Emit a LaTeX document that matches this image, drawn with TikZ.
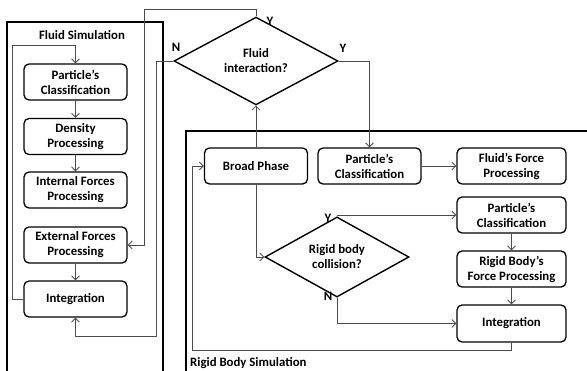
\documentclass[tikz,border=0pt]{standalone}
\usepackage{fontspec}
\setmainfont{Carlito}
\usetikzlibrary{shapes.geometric,arrows.meta}
\begin{document}
\begin{tikzpicture}[x=1pt,y=-1pt,font=\bfseries\fontsize{12.8}{15}\selectfont,
	stepbox/.style={draw,rounded corners=5pt,line width=1.3pt,align=center,minimum height=36pt,minimum width=103pt,inner sep=1pt},
	decision/.style={draw,diamond,line width=1.4pt,align=center,inner sep=0pt},
	frame/.style={line width=1.6pt},
	link/.style={draw=black!70,line width=0.8pt},
	arr/.style={link,-{Straight Barb[length=4pt,width=8pt]}},
	tag/.style={inner sep=0pt}]
				\useasboundingbox (0,0) rectangle (587,370);
				\clip (0,0) rectangle (587,370);
				% frames
				\draw[frame] (7,375)--(7,22)--(163,22)--(163,375);
				\draw[frame] (186,375)--(186,131)--(590,131);
				\node (fsim) at (82,35) {Fluid Simulation};
				\node[anchor=west,inner sep=1pt] (rsim) at (189,363) {Rigid Body Simulation};
				% fluid column
				\node[stepbox] (fpc) at (75.5,82) {Particle's\\Classification};
				\node[stepbox] (fdp) at (75.5,136.5) {Density\\Processing};
				\node[stepbox] (fifp) at (75.5,190) {Internal Forces\\Processing};
				\node[stepbox] (fefp) at (75.5,245) {External Forces\\Processing};
				\node[stepbox] (fint) at (75.5,299) {Integration};
				\draw[arr] (fpc)--(fdp);
				\draw[arr] (fdp)--(fifp);
				\draw[arr] (fefp)--(fint);
				\coordinate (floop) at (12,45);
				\draw[arr] (fint.west)-|(floop)-|(fpc.north);
				% fluid interaction
				\node[decision,minimum width=164pt,minimum height=64pt] (fi) at (256,61) {Fluid\\interaction?};
				\coordinate (ftop) at (144,9);
				\coordinate (fno) at (156,336);
				\draw[arr] (fi.north)|-(ftop)|-(fefp.east);
				\draw[arr] (fi.west)-|(fno)-|(fint.south);
				\node[tag] (fiy) at (270,21) {Y};
				\node[tag] (fin) at (176,47) {N};
				\node[tag] (fiy2) at (343,48) {Y};
				% rigid body
				\node[stepbox] (bp) at (256,166) {Broad Phase};
				\node[stepbox] (rpc) at (369.5,166) {Particle's\\Classification};
				\node[stepbox,minimum width=109pt] (ffp) at (511.5,166) {Fluid's Force\\Processing};
				\node[decision,minimum width=144pt,minimum height=60pt] (rcd) at (337,257) {Rigid body\\collision?};
				\node[stepbox,minimum width=109pt] (rpc2) at (511.5,215) {Particle's\\Classification};
				\node[stepbox,minimum width=109pt] (rbf) at (511.5,269) {Rigid Body's\\Force Processing};
				\node[stepbox,minimum width=109pt,minimum height=37pt] (rint) at (511.5,323.5) {Integration};
				\draw[arr] (fi.east)-|(rpc.north);
				\draw[arr] (bp.north)--(fi.south);
				\draw[arr] (rpc)--(ffp);
				\draw[arr] (bp.south)|-(rcd.west);
				\draw[arr] (rcd.north)|-(rpc2.west);
				\draw[arr] (rcd.south)|-(rint.west);
				\draw[arr] (rpc2)--(rbf);
				\draw[arr] (rbf)--(rint);
				\coordinate (rloop) at (192,350);
				\draw[arr] (rint.south)|-(rloop)|-(bp.west);
				\node[tag] (rcy) at (328,218) {Y};
				\node[tag] (rcn) at (328,296) {N};
			\end{tikzpicture}
\end{document}
